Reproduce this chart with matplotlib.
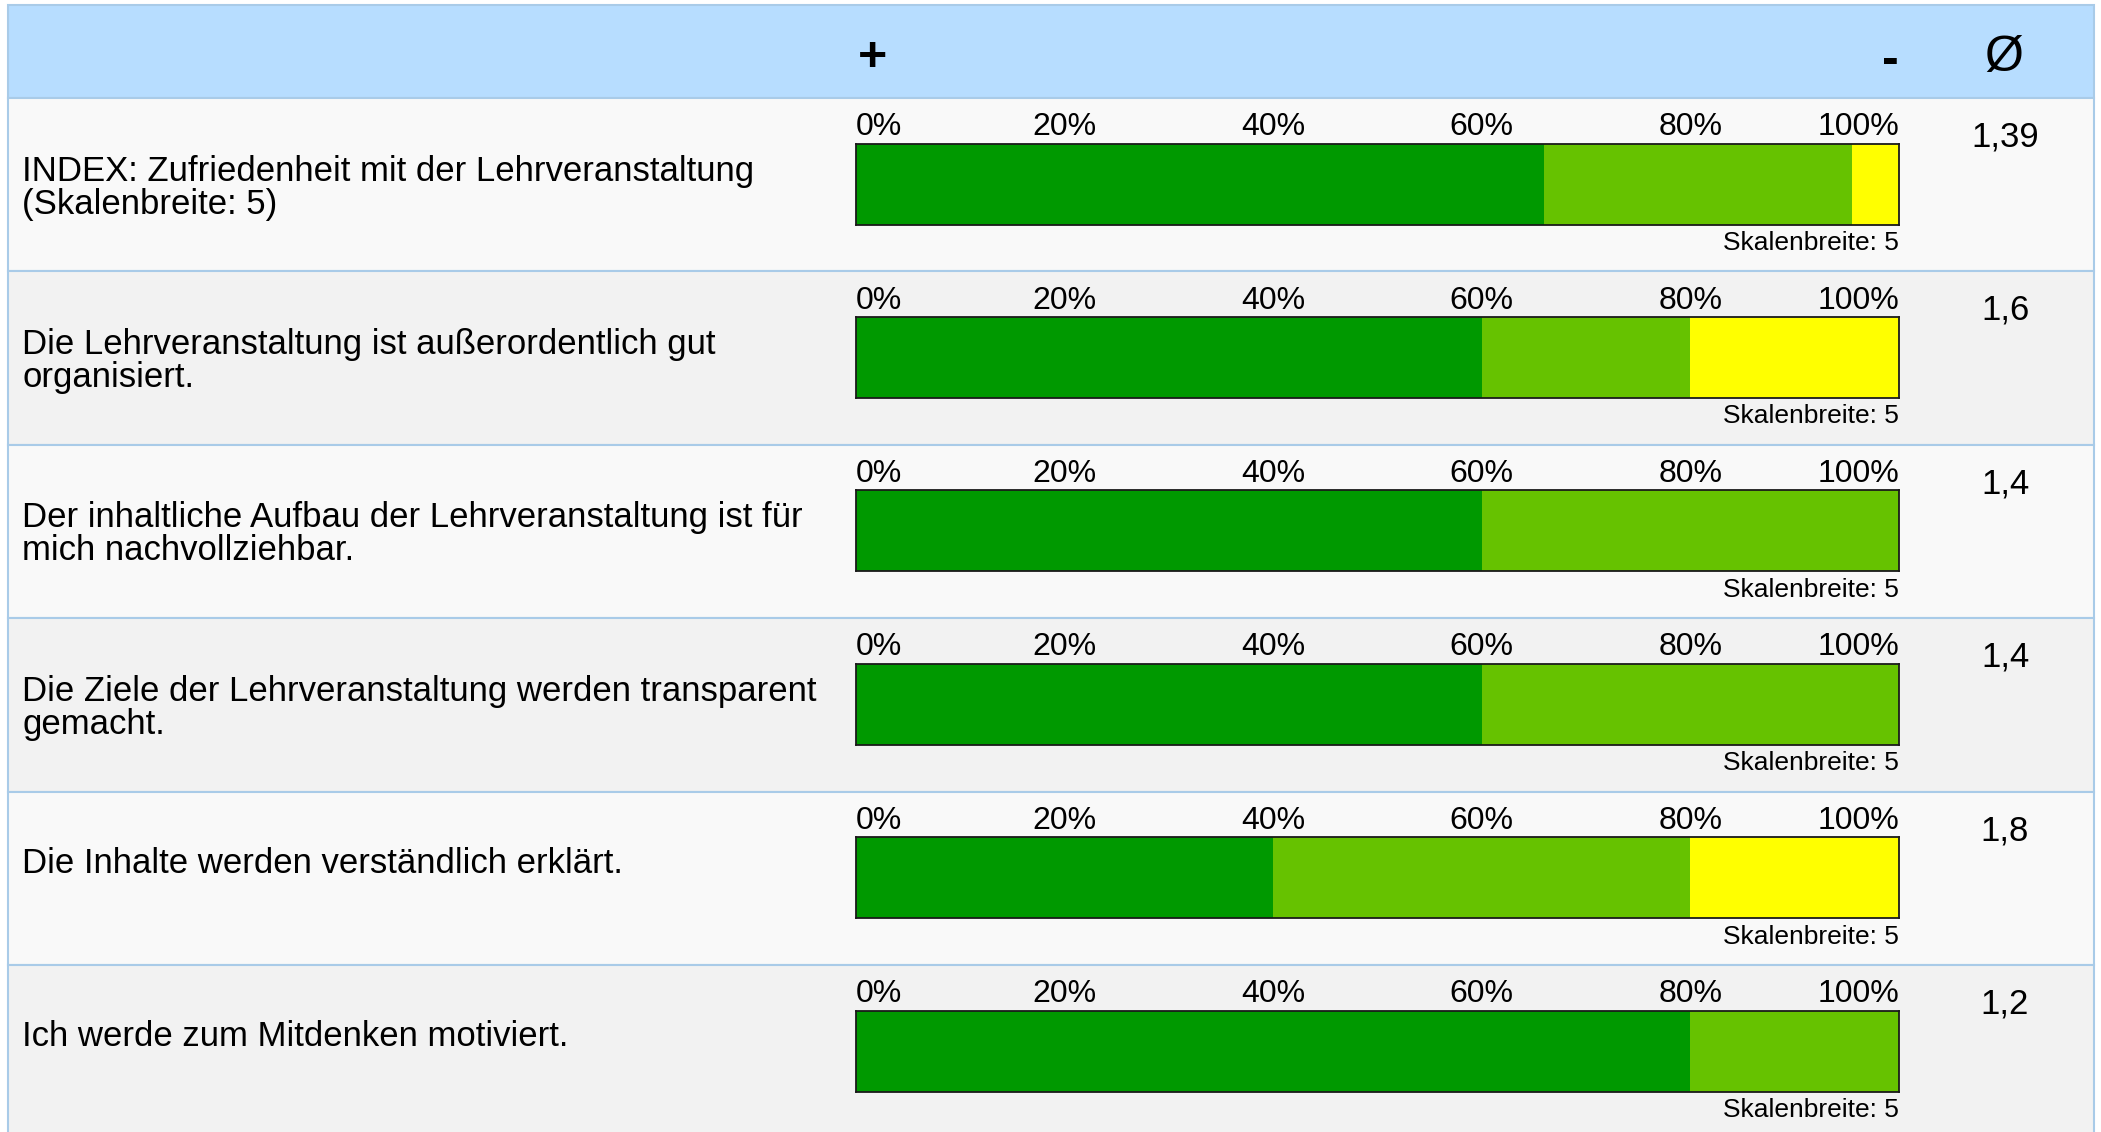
import matplotlib.pyplot as plt
from matplotlib.patches import Rectangle

plt.rcParams['font.family'] = ['Liberation Sans', 'DejaVu Sans']

questions = [
    'INDEX: Zufriedenheit mit der Lehrveranstaltung\n(Skalenbreite: 5)',
    'Die Lehrveranstaltung ist außerordentlich gut\norganisiert.',
    'Der inhaltliche Aufbau der Lehrveranstaltung ist für\nmich nachvollziehbar.',
    'Die Ziele der Lehrveranstaltung werden transparent\ngemacht.',
    'Die Inhalte werden verständlich erklärt.',
    'Ich werde zum Mitdenken motiviert.',
]
# Anteile je Antwortstufe in Prozent (1 = sehr gut ... 3)
share_1 = [66.0, 60, 60, 60, 40, 80]
share_2 = [29.5, 20, 40, 40, 40, 20]
share_3 = [4.5, 20, 0, 0, 20, 0]
means = [1.39, 1.6, 1.4, 1.4, 1.8, 1.2]
scale_note = 'Skalenbreite: 5'
tick_values = [0, 20, 40, 60, 80, 100]
tick_labels = ['0%', '20%', '40%', '60%', '80%', '100%']

colors = ['#009900', '#66c200', '#ffff00']

W, H = 2101, 1132
fig = plt.figure(figsize=(W / 100, H / 100), dpi=100)
fig.patch.set_facecolor('white')

bg = fig.add_axes([0, 0, 1, 1])
bg.set_xlim(0, W)
bg.set_ylim(H, 0)
bg.axis('off')

left, right = 8, 2094
head_top, head_bot = 5, 98
row_h = 173.4
border = '#a9cbe8'

# Kopfzeile
bg.add_patch(Rectangle((left, head_top), right - left, head_bot - head_top,
                       facecolor='#b7ddff', edgecolor=border, lw=1.5))
bg.text(872, 58, '+', ha='center', va='center', fontsize=36, fontweight='bold')
bg.text(1890, 61, '-', ha='center', va='center', fontsize=36, fontweight='bold')
bg.text(2004, 58, 'Ø', ha='center', va='center', fontsize=36)

bar_x0, bar_x1 = 856, 1899
bar_h = 81

for i, q in enumerate(questions):
    top = head_bot + i * row_h
    face = '#f9f9f9' if i % 2 == 0 else '#f2f2f2'
    bg.add_patch(Rectangle((left, top), right - left, row_h,
                           facecolor=face, edgecolor=border, lw=1.5))
    mid = top + row_h / 2
    y_text = mid + 3 if '\n' in q else mid - 15
    bg.text(22, y_text, q, ha='left', va='center', fontsize=25, linespacing=1.0)
    bg.text(2005, top + 39, str(means[i]).replace('.', ','),
            ha='center', va='center', fontsize=25)

    bar_top = top + 45.5
    ax = fig.add_axes([bar_x0 / W, 1 - (bar_top + bar_h) / H,
                       (bar_x1 - bar_x0) / W, bar_h / H])
    lefts = 0
    for vals, c in zip([share_1, share_2, share_3], colors):
        if vals[i] > 0:
            ax.barh(0, vals[i], left=lefts, height=1, color=c, edgecolor='none')
        lefts += vals[i]
    ax.set_xlim(0, 100)
    ax.set_ylim(-0.5, 0.5)
    ax.set_yticks([])
    ax.set_xticks(tick_values)
    ax.set_xticklabels(tick_labels, fontsize=23)
    ax.tick_params(axis='x', top=True, labeltop=True, bottom=False,
                   labelbottom=False, length=0, pad=1)
    labels = ax.get_xticklabels()
    labels[0].set_horizontalalignment('left')
    labels[-1].set_horizontalalignment('right')
    for s in ax.spines.values():
        s.set_color('#1a1a1a')
        s.set_linewidth(1.3)
    ax.text(1.0, -0.08, scale_note, transform=ax.transAxes, ha='right',
            va='top', fontsize=19)

fig.savefig('out.png', dpi=100)
